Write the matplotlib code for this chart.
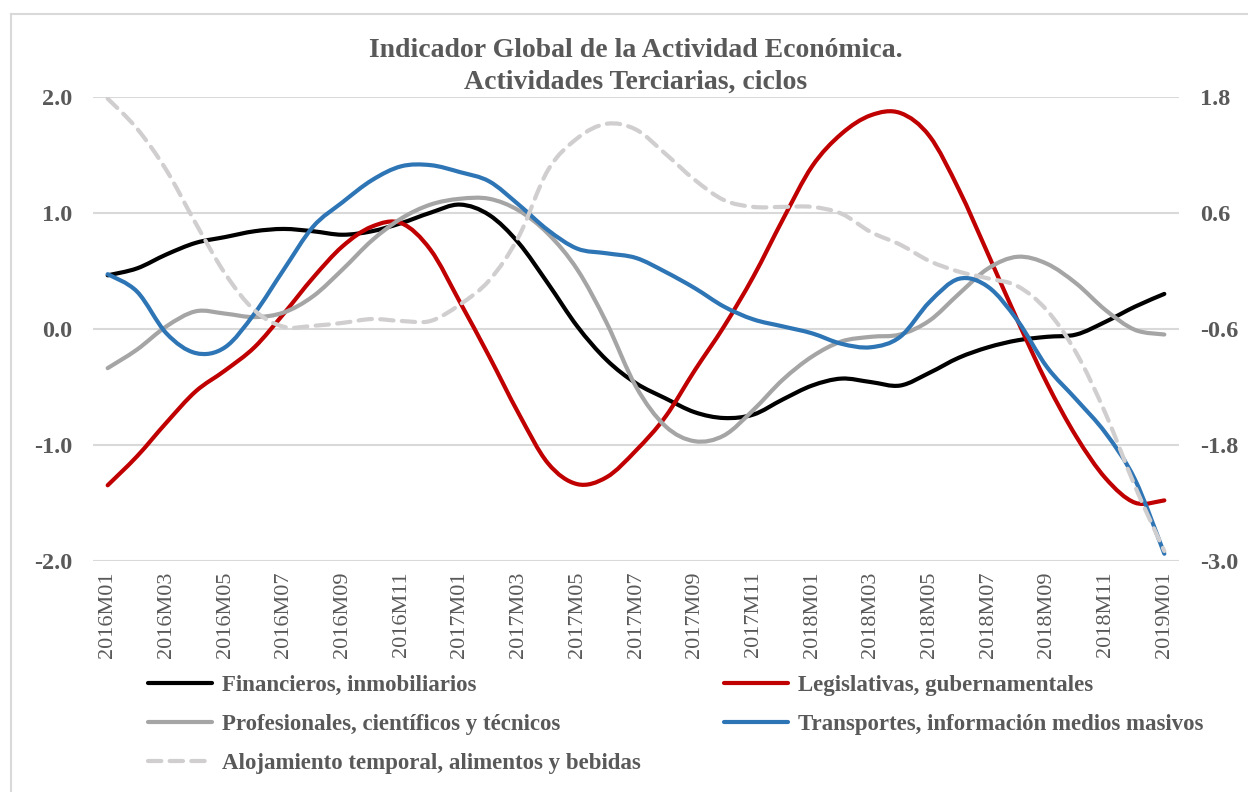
import matplotlib
matplotlib.use("Agg")
import matplotlib.pyplot as plt
from matplotlib.path import Path
from matplotlib.patches import PathPatch
from matplotlib.lines import Line2D
import numpy as np

# ---------------- data ----------------
months = [f"{y}M{m:02d}" for y in (2016, 2017, 2018) for m in range(1, 13)] + ["2019M01"]
tick_labels = months[::2]

financieros = [0.46, 0.52, 0.64, 0.74, 0.79, 0.84, 0.86, 0.84, 0.81, 0.84, 0.91, 1.00,
               1.07, 0.98, 0.74, 0.39, 0.02, -0.27, -0.47, -0.60, -0.72, -0.77, -0.74, -0.61,
               -0.49, -0.43, -0.46, -0.49, -0.38, -0.25, -0.16, -0.10, -0.07, -0.05, 0.06, 0.19,
               0.30]
legislativas = [-1.35, -1.10, -0.81, -0.54, -0.36, -0.16, 0.13, 0.44, 0.71, 0.88, 0.91, 0.68,
                0.23, -0.24, -0.73, -1.16, -1.34, -1.28, -1.05, -0.76, -0.36, 0.02, 0.45, 0.94,
                1.40, 1.68, 1.84, 1.86, 1.66, 1.20, 0.64, 0.07, -0.47, -0.93, -1.29, -1.50,
                -1.48]
profesionales = [-0.34, -0.18, 0.02, 0.15, 0.13, 0.10, 0.14, 0.28, 0.51, 0.76, 0.95, 1.07,
                 1.12, 1.12, 1.02, 0.82, 0.51, 0.05, -0.50, -0.84, -0.97, -0.92, -0.70, -0.44,
                 -0.24, -0.11, -0.07, -0.05, 0.07, 0.30, 0.52, 0.62, 0.56, 0.39, 0.16, -0.01,
                 -0.05]
transportes = [0.47, 0.32, -0.04, -0.21, -0.16, 0.13, 0.51, 0.88, 1.09, 1.28, 1.40, 1.41,
               1.35, 1.27, 1.07, 0.85, 0.69, 0.65, 0.61, 0.49, 0.35, 0.19, 0.08, 0.02,
               -0.04, -0.13, -0.16, -0.07, 0.23, 0.43, 0.36, 0.07, -0.33, -0.61, -0.90, -1.30,
               -1.94]
alojamiento = [1.78, 1.47, 1.04, 0.49, -0.03, -0.41, -0.58, -0.57, -0.54, -0.50, -0.52, -0.52,
               -0.35, -0.10, 0.35, 1.04, 1.37, 1.52, 1.46, 1.21, 0.94, 0.73, 0.66, 0.66,
               0.66, 0.59, 0.40, 0.27, 0.10, -0.01, -0.08, -0.16, -0.41, -0.85, -1.48, -2.23,
               -2.90]

left_ticks = [-2.0, -1.0, 0.0, 1.0, 2.0]
right_ticks = [-3.0, -1.8, -0.6, 0.6, 1.8]

names = ["Financieros, inmobiliarios", "Legislativas, gubernamentales",
         "Profesionales, científicos y técnicos", "Transportes, información medios masivos",
         "Alojamiento temporal, alimentos y bebidas"]

# ---------------- style ----------------
SERIF = ["Liberation Serif", "DejaVu Serif"]
TXT = "#595959"
GRID = "#D9D9D9"
plt.rcParams["font.family"] = SERIF


def smooth_path(y):
    """Excel-like smoothed line: cubic Bezier segments through every data point."""
    x = np.arange(len(y), dtype=float)
    y = np.asarray(y, dtype=float)
    n = len(y)
    verts = [(x[0], y[0])]
    codes = [Path.MOVETO]
    for i in range(n - 1):
        p0 = (x[max(i - 1, 0)], y[max(i - 1, 0)])
        p1 = (x[i], y[i])
        p2 = (x[i + 1], y[i + 1])
        p3 = (x[min(i + 2, n - 1)], y[min(i + 2, n - 1)])
        c1 = (p1[0] + (p2[0] - p0[0]) / 6, p1[1] + (p2[1] - p0[1]) / 6)
        c2 = (p2[0] - (p3[0] - p1[0]) / 6, p2[1] - (p3[1] - p1[1]) / 6)
        verts += [c1, c2, p2]
        codes += [Path.CURVE4] * 3
    return Path(verts, codes)


fig = plt.figure(figsize=(12.48, 7.92), dpi=100)
W, H = 1248, 792
ax = fig.add_axes([93 / W, 1 - 560.7 / H, (1179 - 93) / W, (560.7 - 96.7) / H])
ax2 = ax.twinx()

# chart border (Excel chart area)
fig.add_artist(Line2D([11 / W, 1.0], [1 - 14 / H] * 2, color=GRID, lw=1.5, transform=fig.transFigure))
fig.add_artist(Line2D([11 / W] * 2, [0, 1 - 14 / H], color=GRID, lw=1.5, transform=fig.transFigure))

LW = 3.0
series = [
    (financieros, "#000000", ax),
    (legislativas, "#C00000", ax),
    (profesionales, "#A5A5A5", ax),
    (transportes, "#2E75B6", ax),
]
handles = []
for (vals, col, a), name in zip(series, names[:4]):
    patch = PathPatch(smooth_path(vals), facecolor="none", edgecolor=col, lw=LW,
                      capstyle="round", joinstyle="round", zorder=3)
    a.add_patch(patch)
    handles.append(Line2D([], [], color=col, lw=LW, solid_capstyle="round"))

dash_col = "#D0CECE"
pp = PathPatch(smooth_path(alojamiento), facecolor="none", edgecolor=dash_col, lw=LW,
               linestyle=(0, (3.2, 2.0)), capstyle="round", zorder=3)
ax2.add_patch(pp)
handles.append(Line2D([], [], color=dash_col, lw=LW, linestyle=(0, (3.2, 2.0)),
                      dash_capstyle="round"))

ax.set_xlim(-0.5, len(months) - 0.5)
ax.set_ylim(-2.0, 2.0)
ax2.set_ylim(-3.0, 1.8)
ax.set_yticks(left_ticks)
ax.set_yticklabels([f"{v:.1f}" for v in left_ticks])
ax2.set_yticks(right_ticks)
ax2.set_yticklabels([f"{v:.1f}" for v in right_ticks])
ax.set_xticks(np.arange(0, len(months), 2))
ax.set_xticklabels(tick_labels, rotation=90, fontsize=16, color=TXT)

for a in (ax, ax2):
    for s in a.spines.values():
        s.set_visible(False)
    a.tick_params(length=0)
ax.tick_params(axis="y", labelsize=17.5, labelcolor=TXT, pad=15)
ax2.tick_params(axis="y", labelsize=17.5, labelcolor=TXT, pad=15)
ax.tick_params(axis="x", pad=8)
for lab in ax.get_yticklabels() + ax2.get_yticklabels():
    lab.set_fontweight("bold")

ax.grid(axis="y", color=GRID, lw=1.5)
ax.set_axisbelow(True)
ax.patch.set_visible(False)

fig.text(636 / W, 1 - 38 / H, "Indicador Global de la Actividad Económica.\nActividades Terciarias, ciclos",
         ha="center", va="top", fontsize=20, fontweight="bold", color=TXT, linespacing=1.33)

order = [0, 2, 4, 1, 3]
leg = fig.legend([handles[i] for i in order], [names[i] for i in order], ncol=2,
                 loc="upper left", bbox_to_anchor=(148 / W, 1 - 675 / H), frameon=False,
                 prop={"family": SERIF, "weight": "bold", "size": 16.5},
                 handlelength=2.8, handletextpad=0.45, columnspacing=3.6, labelspacing=0.78,
                 borderaxespad=0, borderpad=0)
for t in leg.get_texts():
    t.set_color(TXT)

fig.savefig("out.png", dpi=100)
